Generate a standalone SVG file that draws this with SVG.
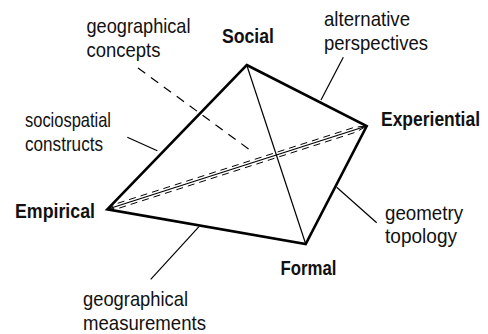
<svg xmlns="http://www.w3.org/2000/svg" width="488" height="334" viewBox="0 0 488 334">
<style>
text{font-family:"Liberation Sans Narrow","Liberation Sans",Arial,sans-serif;font-size:21px;fill:#111}
.b{font-weight:bold}
.thick{stroke:#000;stroke-width:2.6;fill:none;stroke-linejoin:miter}
.thin{stroke:#000;stroke-width:1.2;fill:none}
.dash{stroke:#000;stroke-width:1.2;fill:none;stroke-dasharray:9 7}
.hid{stroke:#000;stroke-width:1;fill:none;stroke-dasharray:7 5}
</style>
<rect width="488" height="334" fill="#fff"/>
<g id="connectors">
<line class="dash" x1="138" y1="68" x2="250" y2="150"/>
<line class="thin" x1="246.7" y1="65" x2="305.7" y2="244"/>
<line class="thin" x1="107.3" y1="209.3" x2="366.7" y2="126"/>
<path class="hid" d="M107.3,209.3 L117.9,203.2 L354.5,127.3 L366.7,126"/>
<path class="hid" d="M107.3,209.3 L119.5,208 L356.1,132.1 L366.7,126"/>
<polygon class="thick" points="246.7,65 366.7,126 305.7,244 107.3,209.3"/>
<line class="thin" x1="127.3" y1="137.3" x2="157.3" y2="150.7"/>
<line class="thin" x1="343.3" y1="57.3" x2="321" y2="100"/>
<line class="thin" x1="336.7" y1="187.3" x2="376.7" y2="222.7"/>
<line class="thin" x1="199" y1="226.7" x2="150.7" y2="279.3"/>
</g>
<g id="social"><text class="b" x="222" y="43" textLength="52" lengthAdjust="spacingAndGlyphs">Social</text></g>
<g id="experiential"><text class="b" x="381" y="126" textLength="99" lengthAdjust="spacingAndGlyphs">Experiential</text></g>
<g id="empirical"><text class="b" x="15" y="217.5" textLength="80" lengthAdjust="spacingAndGlyphs">Empirical</text></g>
<g id="formal"><text class="b" x="280.5" y="274.5" textLength="56" lengthAdjust="spacingAndGlyphs">Formal</text></g>
<g id="geographical-concepts"><text x="86.5" y="33" textLength="104" lengthAdjust="spacingAndGlyphs">geographical</text><text x="86.5" y="56.5" textLength="74" lengthAdjust="spacingAndGlyphs">concepts</text></g>
<g id="alternative-perspectives"><text x="324" y="26" textLength="86" lengthAdjust="spacingAndGlyphs">alternative</text><text x="324" y="49.5" textLength="104" lengthAdjust="spacingAndGlyphs">perspectives</text></g>
<g id="sociospatial-constructs"><text x="25" y="127" textLength="86" lengthAdjust="spacingAndGlyphs">sociospatial</text><text x="25" y="151" textLength="78" lengthAdjust="spacingAndGlyphs">constructs</text></g>
<g id="geometry-topology"><text x="385" y="219.5" textLength="78" lengthAdjust="spacingAndGlyphs">geometry</text><text x="385" y="243" textLength="72" lengthAdjust="spacingAndGlyphs">topology</text></g>
<g id="geographical-measurements"><text x="83" y="306" textLength="105" lengthAdjust="spacingAndGlyphs">geographical</text><text x="83" y="329.5" textLength="123" lengthAdjust="spacingAndGlyphs">measurements</text></g>
</svg>
